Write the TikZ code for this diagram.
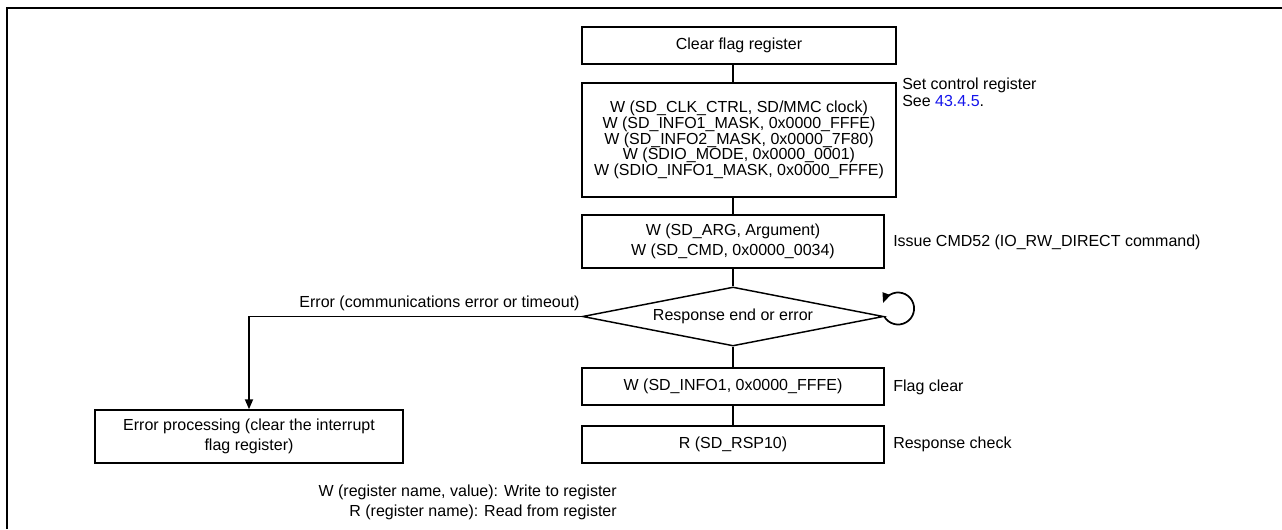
\documentclass[tikz,border=0pt]{standalone}
\usepackage{fontspec}
\setmainfont{Liberation Sans}
\usetikzlibrary{shapes.geometric,arrows.meta}
\definecolor{linkblue}{RGB}{20,20,235}

\begin{document}
\begin{tikzpicture}[x=0.75pt, y=-0.75pt, >={Triangle[length=7.5pt,width=6pt]},
  box/.style={draw, line width=1.1pt, align=center, inner sep=0pt,
    font=\fontsize{12}{15}\selectfont},
  note/.style={anchor=west, align=left, inner sep=0pt,
    font=\fontsize{12}{12.75}\selectfont},
  line/.style={line width=1.3pt}]

  \useasboundingbox (0,0) rectangle (1282,529);
  \draw[line width=2.2pt] (7,529) -- (7,8) -- (1282,8);

  % main flow
  \node[box, minimum width=235.5pt, minimum height=27.75pt] (clr) at (739,45.5)
    {Clear flag register};
  \node[box, minimum width=235.5pt, minimum height=85.5pt,
    font=\fontsize{12}{11.8}\selectfont] (ctrl) at (739,140)
    {W (SD\_CLK\_CTRL, SD/MMC clock)\\
     W (SD\_INFO1\_MASK, 0x0000\_FFFE)\\
     W (SD\_INFO2\_MASK, 0x0000\_7F80)\\
     W (SDIO\_MODE, 0x0000\_0001)\\
     W (SDIO\_INFO1\_MASK, 0x0000\_FFFE)};
  \node[box, minimum width=226.5pt, minimum height=39.75pt] (cmd) at (733,241.5)
    {W (SD\_ARG, Argument)\\W (SD\_CMD, 0x0000\_0034)};
  \node[box, diamond, aspect=5.1, minimum width=225.75pt, minimum height=44.25pt]
    (resp) at (733,316.5) {Response end or error};
  \node[box, minimum width=226.5pt, minimum height=27.75pt] (info) at (733,386.5)
    {W (SD\_INFO1, 0x0000\_FFFE)};
  \node[box, minimum width=226.5pt, minimum height=27.75pt] (rsp) at (733,444.5)
    {R (SD\_RSP10)};
  \node[box, minimum width=231pt, minimum height=39.75pt] (err) at (249,436.5)
    {Error processing (clear the interrupt\\flag register)};

  \draw[line] (cmd.north |- clr.south) -- (cmd.north |- ctrl.north);
  \draw[line] (cmd.north |- ctrl.south) -- (cmd.north);
  \draw[line] (cmd.south) -- (resp.north);
  \draw[line] (resp.south) -- (info.north);
  \draw[line] (info.south) -- (rsp.north);
  \draw[line, ->] (resp.west) -| (err.north)
    node[pos=0, anchor=south east, inner xsep=1pt, inner ysep=3.5pt,
      font=\fontsize{12}{15}\selectfont] (errlbl)
    {Error (communications error or timeout)};
  \draw[line, ->] (resp.east) arc[start angle=150, end angle=-160, radius=16];

  % notes
  \node[note] (setnote) at (902,92)
    {Set control register\\See \textcolor{linkblue}{43.4.5}.};
  \node[note] (cmdnote) at (893,242) {Issue CMD52 (IO\_RW\_DIRECT command)};
  \node[note] (flagnote) at (893,387) {Flag clear};
  \node[note] (rspnote) at (893,444) {Response check};

  \node[note, anchor=east, align=right, font=\fontsize{12}{15}\selectfont]
    (legend) at (617,502)
    {W (register name, value): Write to register\\R (register name): Read from register};

\end{tikzpicture}
\end{document}
